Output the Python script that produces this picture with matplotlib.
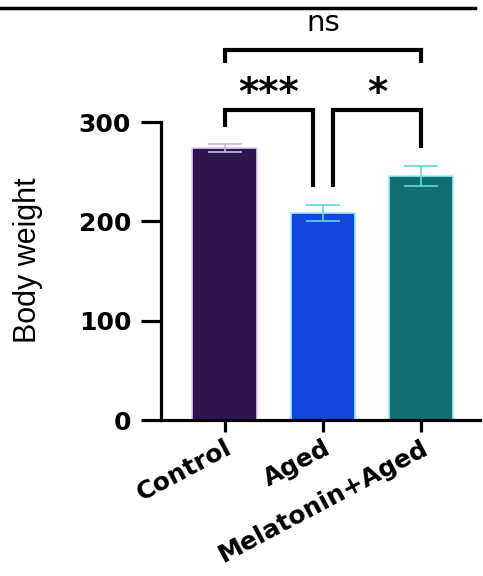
import matplotlib
matplotlib.use("Agg")
import matplotlib.pyplot as plt
from matplotlib.lines import Line2D
from matplotlib.transforms import ScaledTranslation


groups = ["Control", "Aged", "Melatonin+Aged"]
body_weight = [274, 208, 246]
sem = [4, 8, 10]
bar_colors = ["#2d1650", "#1447e0", "#136e72"]
edge_colors = ["#e6d0ec", "#9eeeff", "#9eeeff"]
err_colors = ["#c9b6e2", "#5fd6e6", "#5fd6e6"]
y_ticks = [0, 100, 200, 300]

# (left group, right group, label, bar height, left leg end, right leg end)
comparisons = [
    (0, 1, "***", 312, 295, 235),
    (1, 2, "*", 312, 235, 274),
    (0, 2, "ns", 372, 359, 359),
]


def draw_bracket(ax, x1, x2, top, y1, y2, label, lw):
    ax.plot([x1, x1, x2, x2], [y1, top, top, y2], color="black", lw=lw,
            solid_joinstyle="miter", solid_capstyle="butt", clip_on=False)
    if label == "ns":
        ax.text((x1 + x2) / 2, top + 28, label, ha="center", va="center",
                fontsize=21, family="DejaVu Sans", clip_on=False)
    else:
        ax.text((x1 + x2) / 2, top + 16, label, ha="center", va="center",
                fontsize=28, fontweight="bold", family="DejaVu Sans",
                clip_on=False)


def main():
    fig = plt.figure(figsize=(4.83, 5.76), dpi=100)
    ax = fig.add_axes([161 / 483, 156 / 576, 319 / 483, 298 / 576])

    x = list(range(len(groups)))
    ax.bar(x, body_weight, width=0.66, color=bar_colors,
           edgecolor=edge_colors, linewidth=1.2, zorder=2)
    for xi, v, e, c in zip(x, body_weight, sem, err_colors):
        ax.errorbar(xi, v, yerr=e, ecolor=c, elinewidth=1.2, capsize=12,
                    capthick=1.2, fmt="none", zorder=3)

    ax.set_xlim(-0.65, 2.6)
    ax.set_ylim(0, 300)
    ax.set_yticks(y_ticks)
    ax.set_xticks(x)
    ax.set_xticklabels(groups, rotation=28, ha="right",
                       rotation_mode="anchor", fontsize=18,
                       fontweight="bold", family="DejaVu Sans")
    shift = ScaledTranslation(6 / 100, 0, fig.dpi_scale_trans)
    for lab in ax.get_xticklabels():
        lab.set_transform(lab.get_transform() + shift)
    for lab in ax.get_yticklabels():
        lab.set_fontsize(18)
        lab.set_fontweight("bold")
        lab.set_family("DejaVu Sans")

    for side in ["top", "right"]:
        ax.spines[side].set_visible(False)
    for side in ["left", "bottom"]:
        ax.spines[side].set_linewidth(2.3)
    ax.tick_params(axis="y", length=14.5, width=2.3, pad=7)
    ax.tick_params(axis="x", length=8.5, width=2.3, pad=3)

    ax.set_ylabel("Body weight", fontsize=22, family="Liberation Sans",
                  va="center")
    ax.yaxis.set_label_coords(-0.417, 0.537)

    # significance brackets above the bars
    offsets = {(0, 1): (0, -0.1), (1, 2): (0.1, 0), (0, 2): (0, 0)}
    for g1, g2, label, top, y1, y2 in comparisons:
        d1, d2 = offsets[(g1, g2)]
        draw_bracket(ax, g1 + d1, g2 + d2, top, y1, y2, label, 3.0)

    # rule across the top of the figure
    fig.add_artist(Line2D([0, 475 / 483], [1 - 8 / 576, 1 - 8 / 576],
                          color="black", lw=2.5, transform=fig.transFigure))

    fig.savefig("out.png", dpi=100)


if __name__ == "__main__":
    main()
